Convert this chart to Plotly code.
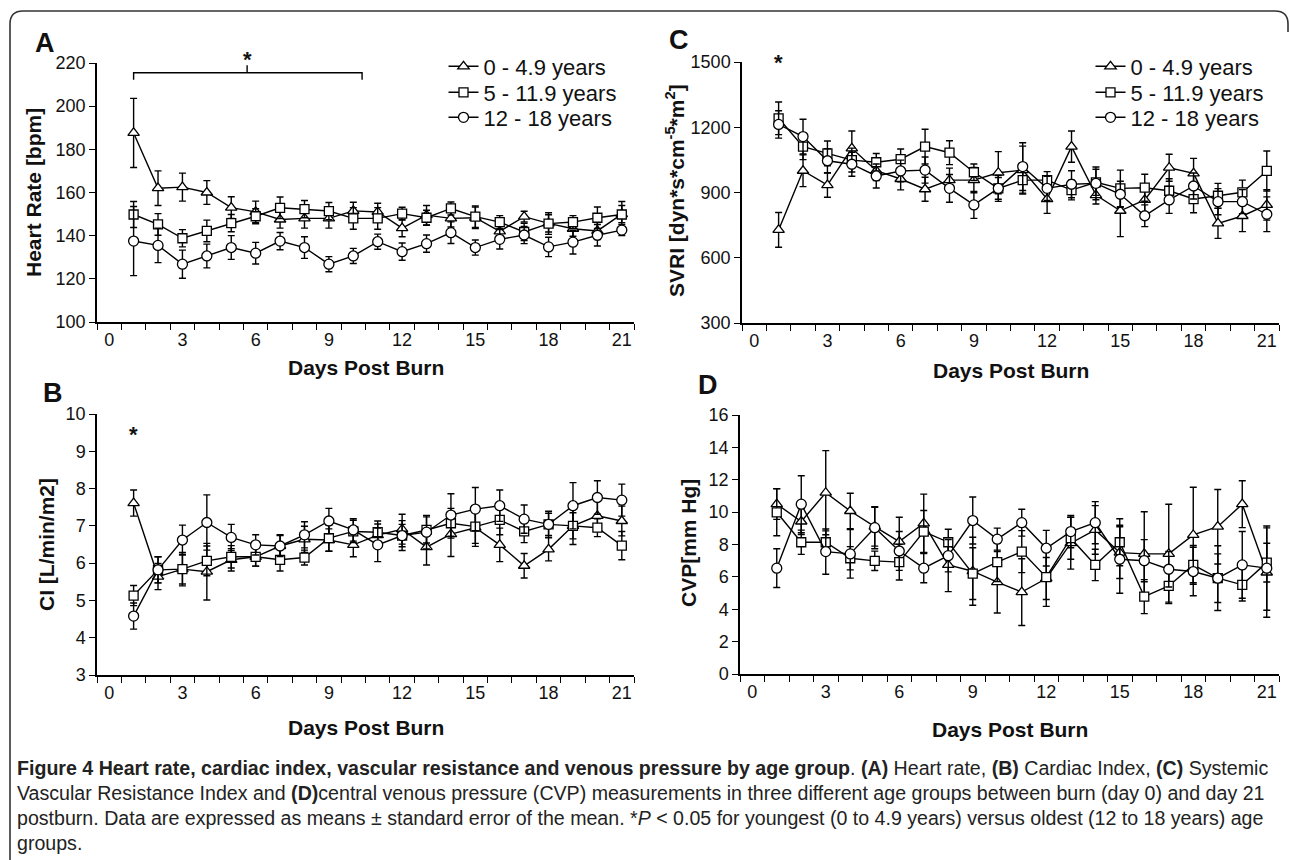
import plotly.graph_objects as go

W, H = 1290, 860

days = list(range(1, 22))
x_tick_vals = [0, 3, 6, 9, 12, 15, 18, 21]
x_tick_text = [str(v) for v in x_tick_vals]
group_names = ["0 - 4.9 years", "5 - 11.9 years", "12 - 18 years"]

# Panel A: Heart rate [bpm]
hr_young = [187.6, 162, 162.5, 160, 153, 151, 147.5, 148, 148, 151.5, 151, 143.5, 149.5, 148, 148.3, 142, 148.8, 145.7, 143.2, 142.2, 150]
hr_young_se = [16, 8, 6.5, 5.5, 5, 5, 4, 4.5, 4.5, 4, 4, 4, 4.5, 4, 5, 4, 2.5, 4, 3.5, 4, 4]
hr_mid = [149.8, 145.2, 138.8, 142.2, 145.8, 149, 152.9, 152.3, 151.4, 148, 148, 150.2, 148.3, 152.6, 148.8, 146.3, 141.7, 145.6, 146.3, 148.3, 149.8]
hr_mid_se = [6, 5, 4, 5, 4, 3.5, 5, 4, 4, 5, 5, 3, 3.5, 3, 5, 3, 4, 5, 3, 5, 6]
hr_old = [137.5, 135.5, 126.8, 130.6, 134.5, 131.9, 137.5, 134.5, 126.8, 130.6, 137.2, 132.6, 136.3, 141.4, 134.5, 138.3, 140.3, 134.8, 137, 140.2, 142.6]
hr_old_se = [16, 8, 6.5, 5.5, 5.5, 5, 4, 5, 3.5, 3.5, 3.5, 4, 4, 5, 3.5, 4.5, 4, 4.5, 5.5, 5, 2.5]

# Panel B: Cardiac index [L/min/m2]
ci_young = [7.61, 5.64, 5.84, 5.77, 6.09, 6.17, 6.46, 6.64, 6.62, 6.49, 6.75, 6.91, 6.43, 6.78, 6.95, 6.49, 5.93, 6.37, 7.0, 7.27, 7.13]
ci_young_se = [0.35, 0.35, 0.4, 0.76, 0.3, 0.25, 0.3, 0.35, 0.3, 0.32, 0.3, 0.4, 0.48, 0.6, 0.5, 0.45, 0.33, 0.31, 0.35, 0.4, 0.4]
ci_mid = [5.13, 5.82, 5.84, 6.06, 6.17, 6.17, 6.09, 6.15, 6.67, 6.85, 6.83, 6.74, 6.89, 7.07, 6.98, 7.16, 6.85, 7.04, 7.0, 6.95, 6.47]
ci_mid_se = [0.27, 0.35, 0.45, 0.4, 0.3, 0.25, 0.3, 0.2, 0.35, 0.3, 0.3, 0.3, 0.35, 0.4, 0.45, 0.4, 0.3, 0.3, 0.5, 0.24, 0.38]
ci_old = [4.58, 5.82, 6.62, 7.09, 6.69, 6.49, 6.46, 6.76, 7.13, 6.89, 6.49, 6.74, 6.83, 7.29, 7.45, 7.54, 7.18, 7.04, 7.54, 7.76, 7.69]
ci_old_se = [0.35, 0.35, 0.4, 0.74, 0.35, 0.27, 0.28, 0.35, 0.34, 0.3, 0.45, 0.4, 0.45, 0.57, 0.58, 0.42, 0.38, 0.35, 0.62, 0.45, 0.43]

# Panel C: SVRI
svri_young = [728, 1000, 934, 1103, 1000, 962, 915, 957, 957, 991, 1003, 870, 1111, 888, 816, 866, 1014, 988, 758, 792, 843]
svri_young_se = [80, 73, 56, 80, 45, 50, 55, 55, 58, 97, 110, 66, 72, 41, 119, 60, 62, 69, 69, 72, 70]
svri_mid = [1241, 1111, 1080, 1049, 1039, 1053, 1111, 1083, 993, 919, 957, 957, 911, 947, 919, 922, 908, 870, 885, 901, 999]
svri_mid_se = [75, 60, 57, 55, 40, 47, 80, 55, 38, 50, 60, 39, 45, 60, 84, 62, 55, 63, 57, 56, 92]
svri_old = [1213, 1157, 1046, 1030, 976, 999, 1003, 919, 843, 919, 1019, 919, 938, 942, 892, 793, 866, 930, 858, 858, 800]
svri_old_se = [63, 80, 55, 55, 55, 50, 60, 64, 62, 60, 110, 55, 62, 75, 60, 50, 62, 60, 60, 55, 80]

# Panel D: CVP [mm Hg]
cvp_young = [10.5, 9.42, 11.2, 10.07, 9.1, 8.18, 9.31, 6.74, 6.35, 5.67, 5.06, 5.9, 8.08, 8.9, 7.5, 7.42, 7.42, 8.59, 9.1, 10.49, 6.27]
cvp_young_se = [0.95, 0.8, 2.6, 1.1, 1.2, 1.5, 1.8, 1.65, 2.1, 1.9, 2.06, 1.3, 1.6, 1.5, 1.6, 2.6, 3.07, 2.95, 2.3, 1.45, 2.76]
cvp_mid = [9.99, 8.14, 8.14, 7.15, 6.99, 6.91, 8.8, 8.14, 6.2, 6.91, 7.56, 5.98, 8.39, 6.74, 8.14, 4.78, 5.44, 6.74, 5.92, 5.51, 6.88]
cvp_mid_se = [1.45, 0.75, 0.7, 0.72, 0.6, 1.1, 1.3, 0.8, 1.6, 1.2, 1.3, 1.8, 1.3, 0.97, 1.45, 1.05, 1.0, 1.2, 1.5, 1.0, 1.2]
cvp_old = [6.54, 10.49, 7.56, 7.42, 9.04, 7.6, 6.54, 7.31, 9.48, 8.33, 9.35, 7.77, 8.8, 9.35, 7.09, 7.0, 6.47, 6.33, 5.92, 6.74, 6.54]
cvp_old_se = [1.2, 1.76, 1.4, 1.5, 1.3, 1.2, 0.9, 1.0, 1.45, 0.68, 0.83, 1.1, 1.0, 1.3, 2.1, 1.3, 1.1, 1.5, 2.0, 2.06, 2.6]

FONT = "Liberation Sans, Arial, Helvetica, sans-serif"
symbols = ["triangle-up", "square", "circle"]
sizes = [10, 9, 10]


def px_x(p):
    return p / W


def px_y(p):
    return 1 - p / H


fig = go.Figure()

panels = [
    ("x", "y", [(hr_young, hr_young_se), (hr_mid, hr_mid_se), (hr_old, hr_old_se)], ["legend", "legend3", "legend4"]),
    ("x2", "y2", [(svri_young, svri_young_se), (svri_mid, svri_mid_se), (svri_old, svri_old_se)], ["legend2", "legend5", "legend6"]),
    ("x3", "y3", [(ci_young, ci_young_se), (ci_mid, ci_mid_se), (ci_old, ci_old_se)], None),
    ("x4", "y4", [(cvp_young, cvp_young_se), (cvp_mid, cvp_mid_se), (cvp_old, cvp_old_se)], None),
]

for xa, ya, series, legs in panels:
    for i, (vals, se) in enumerate(series):
        kw = dict(legend=legs[i], showlegend=True) if legs else dict(showlegend=False)
        fig.add_trace(go.Scatter(
            x=days, y=vals, xaxis=xa, yaxis=ya, name=group_names[i],
            mode="lines+markers",
            line=dict(color="black", width=1.4),
            marker=dict(symbol=symbols[i], size=sizes[i], color="white",
                        line=dict(color="black", width=1.3)),
            error_y=dict(type="data", array=se, visible=True, color="black", thickness=1.4, width=3.5),
            cliponaxis=False,
            **kw))

minor_ticks = [i - 0.5 for i in range(23)]


def xaxis(domain, anchor):
    return dict(domain=domain, anchor=anchor, range=[-0.5, 21.5], showgrid=False, zeroline=False,
                showline=True, linecolor="black", linewidth=1.5,
                tickmode="array", tickvals=x_tick_vals, ticktext=x_tick_text,
                ticks="outside", ticklen=1, tickcolor="rgba(0,0,0,0)",
                minor=dict(tickmode="array", tickvals=minor_ticks, ticks="outside", ticklen=6,
                           tickwidth=1.4, tickcolor="black", showgrid=False),
                tickfont=dict(family=FONT, size=18, color="#111"), automargin=False, fixedrange=True)


def yaxis(domain, anchor, rng, dtick):
    return dict(domain=domain, anchor=anchor, range=rng, dtick=dtick, tick0=rng[0], showgrid=False,
                zeroline=False, showline=True, linecolor="black", linewidth=1.5,
                ticks="outside", ticklen=6, tickwidth=1.4, tickcolor="black",
                tickfont=dict(family=FONT, size=18, color="#111"), automargin=False, fixedrange=True)


def legend_at(xp, ytop):
    return dict(x=px_x(xp), y=px_y(ytop), xanchor="left", yanchor="top", bgcolor="rgba(0,0,0,0)",
                font=dict(family=FONT, size=22, color="#111"), itemwidth=30, tracegroupgap=0)


leg_rows = [45.5, 71.5, 96.5]
fig.update_layout(
    width=W, height=H, autosize=False,
    margin=dict(l=0, r=0, t=0, b=0),
    paper_bgcolor="white", plot_bgcolor="white",
    font=dict(family=FONT, color="black"),
    xaxis=xaxis([px_x(97), px_x(634)], "y"),
    yaxis=yaxis([px_y(322), px_y(63)], "x", [100, 220], 20),
    xaxis2=xaxis([px_x(742), px_x(1279)], "y2"),
    yaxis2=yaxis([px_y(323), px_y(62)], "x2", [300, 1500], 300),
    xaxis3=xaxis([px_x(97), px_x(634)], "y3"),
    yaxis3=yaxis([px_y(675), px_y(414)], "x3", [3, 10], 1),
    xaxis4=xaxis([px_x(740), px_x(1279)], "y4"),
    yaxis4=yaxis([px_y(674), px_y(415)], "x4", [0, 16], 2),
    legend=legend_at(443.5, leg_rows[0]),
    legend3=legend_at(443.5, leg_rows[1]),
    legend4=legend_at(443.5, leg_rows[2]),
    legend2=legend_at(1090.5, leg_rows[0]),
    legend5=legend_at(1090.5, leg_rows[1]),
    legend6=legend_at(1090.5, leg_rows[2]),
)

ann = []


def text(xp, yp, s, size, bold=False, angle=0, xanchor="center", color="#111"):
    ann.append(dict(x=px_x(xp), y=px_y(yp), xref="paper", yref="paper", text=("<b>%s</b>" % s) if bold else s,
                    showarrow=False, textangle=angle, xanchor=xanchor, yanchor="middle",
                    font=dict(family=FONT, size=size, color=color)))


# panel letters
text(45, 43, "A", 27, True)
text(53, 393, "B", 27, True)
text(679, 40, "C", 27, True)
text(708, 385, "D", 27, True)

# axis titles
text(33, 193, "Heart Rate [bpm]", 21, True, -90)
text(675, 191, "SVRI [dyn*s*cm<sup>-5</sup>*m<sup>2</sup>]", 21, True, -90)
text(46, 545, "CI [L/min/m2]", 21, True, -90)
text(688, 543, "CVP[mm Hg]", 21, True, -90)
text(365.5, 367, "Days Post Burn", 21, True)
text(1010.5, 370, "Days Post Burn", 21, True)
text(365.5, 727, "Days Post Burn", 21, True)
text(1009.5, 729, "Days Post Burn", 21, True)

# significance markers (data coordinates + small pixel shift)
stars = [((5.65, 219.0), "x", "y", 5.6), ((1.0, 9.46), "x3", "y3", 0), ((1.0, 1497), "x2", "y2", 0)]
for (sx, sy), xr, yr, ys in stars:
    ann.append(dict(x=sx, y=sy, xref=xr, yref=yr, yshift=ys, text="<b>*</b>", showarrow=False,
                    font=dict(family=FONT, size=22, color="#111"), yanchor="middle"))

# caption
cap_lines = [
    "<b>Figure 4 Heart rate, cardiac index, vascular resistance and venous pressure by age group</b>. <b>(A)</b> Heart rate, <b>(B)</b> Cardiac Index, <b>(C)</b> Systemic",
    "Vascular Resistance Index and <b>(D)</b>central venous pressure (CVP) measurements in three different age groups between burn (day 0) and day 21",
    "postburn. Data are expressed as means ± standard error of the mean. *<i>P</i> &lt; 0.05 for youngest (0 to 4.9 years) versus oldest (12 to 18 years) age",
    "groups.",
]
cap_y = [768, 793, 818, 843]
for s, yy in zip(cap_lines, cap_y):
    ann.append(dict(x=px_x(15), y=px_y(yy), xref="paper", yref="paper", text=s, showarrow=False,
                    xanchor="left", yanchor="middle", align="left",
                    font=dict(family=FONT, size=19.6, color="#222")))

fig.update_layout(annotations=ann)

# significance bracket in A (data coordinates)
br_left, br_right, br_mid = 1.0, 10.36, 5.65
br_y, br_end, br_top = 215.5, 212.2, 219.0
shapes = [
    dict(type="path", xref="x", yref="y",
         path="M %s,%s V %s H %s V %s" % (br_left, br_end, br_y, br_right, br_end),
         line=dict(color="black", width=1.4)),
    dict(type="line", xref="x", yref="y", x0=br_mid, x1=br_mid, y0=br_y, y1=br_top,
         line=dict(color="black", width=1.4)),
]

# outer frame (rounded top corners)
fx = lambda p: p / W
fy = lambda p: 1 - p / H
frame = "M %f,%f V %f Q %f,%f %f,%f H %f Q %f,%f %f,%f V %f" % (
    fx(10), fy(860), fy(24), fx(10), fy(11), fx(23), fy(11), fx(1275), fx(1288), fy(11), fx(1288), fy(24), fy(32))
shapes.append(dict(type="path", xref="paper", yref="paper", path=frame,
                   line=dict(color="#333", width=1.6)))
fig.update_layout(shapes=shapes)

fig.write_html("out.html", config={"displayModeBar": False},
               post_script="document.body.style.margin='0';document.body.style.overflow='hidden';")
